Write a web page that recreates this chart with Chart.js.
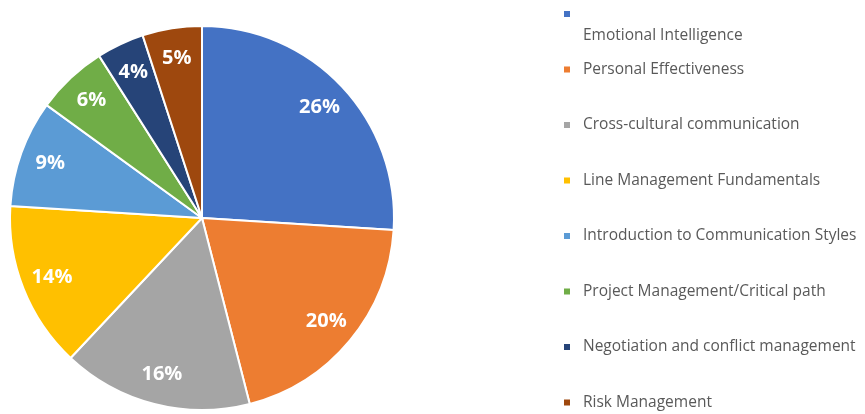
<!DOCTYPE html>
<html lang="en">
<head>
    <meta charset="utf-8">
    <title>Training Courses</title>
    <style>
        * { margin: 0; padding: 0; box-sizing: border-box; }
        body { background: #ffffff; width: 865px; height: 414px; overflow: hidden; }
        .wrapper { position: relative; width: 865px; height: 414px; }
    </style>
</head>
<body>
    <div class="wrapper">
        <canvas id="pie"></canvas>
    </div>

    <script src="https://cdn.jsdelivr.net/npm/chart.js@4.4.1/dist/chart.umd.min.js"></script>
    <script>
        // Course names (the first one wraps onto a second line in the legend)
        const courses = [
            "\nEmotional Intelligence",
            "Personal Effectiveness",
            "Cross-cultural communication",
            "Line Management Fundamentals",
            "Introduction to Communication Styles",
            "Project Management/Critical path",
            "Negotiation and conflict management",
            "Risk Management"
        ];
        // Share of each course, in percent
        const shares = [26, 20, 16, 14, 9, 6, 4, 5];
        const sliceColors = [
            "#4472C4", "#ED7D31", "#A5A5A5", "#FFC000",
            "#5B9BD5", "#70AD47", "#264478", "#9E480E"
        ];

        const FONT = "'Open Sans', sans-serif";

        // Percent labels drawn inside each slice, near the outer edge
        const sliceLabels = {
            id: "sliceLabels",
            afterDatasetsDraw(chart) {
                const ctx = chart.ctx;
                const meta = chart.getDatasetMeta(0);
                ctx.save();
                ctx.fillStyle = "#ffffff";
                ctx.font = "bold 20px " + FONT;
                ctx.textAlign = "center";
                ctx.textBaseline = "middle";
                meta.data.forEach((arc, i) => {
                    const mid = (arc.startAngle + arc.endAngle) / 2;
                    const r = arc.outerRadius * 0.84;
                    ctx.fillText(shares[i] + "%", arc.x + Math.cos(mid) * r, arc.y + Math.sin(mid) * r);
                });
                ctx.restore();
            }
        };

        // Legend on the right, one row per course
        const sideLegend = {
            id: "sideLegend",
            afterDraw(chart) {
                const ctx = chart.ctx;
                const x = 567, top = 14, step = 55.5;
                ctx.save();
                ctx.font = "15.5px " + FONT;
                ctx.textBaseline = "middle";
                courses.forEach((name, i) => {
                    const y = top + i * step;
                    ctx.fillStyle = sliceColors[i];
                    ctx.fillRect(x - 3, y - 3, 6, 6);
                    ctx.fillStyle = "#595959";
                    name.split("\n").forEach((line, j) => {
                        ctx.fillText(line, x + 16, y + j * 22);
                    });
                });
                ctx.restore();
            }
        };

        new Chart(document.getElementById("pie"), {
            type: "pie",
            plugins: [sliceLabels, sideLegend],
            data: {
                labels: courses,
                datasets: [{
                    data: shares,
                    backgroundColor: sliceColors,
                    borderColor: "#ffffff",
                    borderWidth: 2
                }]
            },
            options: {
                responsive: true,
                maintainAspectRatio: false,
                animation: false,
                layout: { padding: { left: 9, top: 25, right: 470, bottom: 3 } },
                plugins: {
                    legend: { display: false },
                    tooltip: { enabled: false }
                }
            }
        });
    </script>
</body>
</html>
